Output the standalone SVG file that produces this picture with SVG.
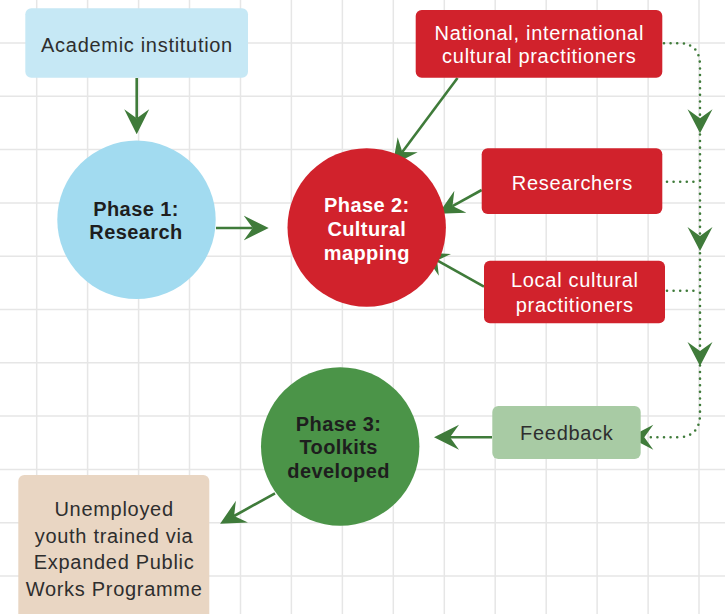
<svg xmlns="http://www.w3.org/2000/svg" xmlns:xlink="http://www.w3.org/1999/xlink" width="725" height="614" viewBox="0 0 725 614">
<style>
.grid line{stroke:#e6e6e6;stroke-width:1.5}
.t{font-family:"Liberation Sans",Arial,sans-serif;font-size:20px;letter-spacing:0.7px;text-anchor:middle}
.b{font-family:"Liberation Sans",Arial,sans-serif;font-size:20px;font-weight:bold;letter-spacing:0.4px;text-anchor:middle}
.dark{fill:#2e2e2e}
.white{fill:#ffffff}
.red{fill:#d1222c}
.conn{stroke:#3f7b3a;stroke-width:2.6;fill:none}
.dot{stroke:#3f7b3a;stroke-width:2.6;fill:none;stroke-linecap:round;stroke-dasharray:0 6.6}
.head{fill:#3f7b3a}
</style>
<defs>
<marker id="arr" markerUnits="userSpaceOnUse" viewBox="0 -13 25 26" refX="9" refY="0" markerWidth="25" markerHeight="26" orient="auto">
<path d="M25,0 L0,-12.5 L9,0 L0,12.5 Z" fill="#3f7b3a"/>
</marker>
<path id="ah" d="M0,0 L-24,-12.5 L-15,0 L-24,12.5 Z"/>
</defs>
<rect width="725" height="614" fill="#ffffff"/>
<g class="grid">
<line x1="0" y1="43" x2="725" y2="43"/>
<line x1="0" y1="96.3" x2="725" y2="96.3"/>
<line x1="0" y1="149.6" x2="725" y2="149.6"/>
<line x1="0" y1="202.9" x2="725" y2="202.9"/>
<line x1="0" y1="256.2" x2="725" y2="256.2"/>
<line x1="0" y1="309.5" x2="725" y2="309.5"/>
<line x1="0" y1="362.8" x2="725" y2="362.8"/>
<line x1="0" y1="416.1" x2="725" y2="416.1"/>
<line x1="0" y1="469.4" x2="725" y2="469.4"/>
<line x1="0" y1="522.7" x2="725" y2="522.7"/>
<line x1="0" y1="576" x2="725" y2="576"/>
<line x1="36.7" y1="0" x2="36.7" y2="614"/>
<line x1="87.6" y1="0" x2="87.6" y2="614"/>
<line x1="138.6" y1="0" x2="138.6" y2="614"/>
<line x1="189.5" y1="0" x2="189.5" y2="614"/>
<line x1="240.5" y1="0" x2="240.5" y2="614"/>
<line x1="291.4" y1="0" x2="291.4" y2="614"/>
<line x1="342.4" y1="0" x2="342.4" y2="614"/>
<line x1="393.3" y1="0" x2="393.3" y2="614"/>
<line x1="444.3" y1="0" x2="444.3" y2="614"/>
<line x1="495.2" y1="0" x2="495.2" y2="614"/>
<line x1="546.2" y1="0" x2="546.2" y2="614"/>
<line x1="597.1" y1="0" x2="597.1" y2="614"/>
<line x1="648.1" y1="0" x2="648.1" y2="614"/>
<line x1="699" y1="0" x2="699" y2="614"/>
</g>
<g id="connectors">
<path class="conn" d="M136.7,78 L136.7,118.3" marker-end="url(#arr)"/>
<path class="conn" d="M216,228 L252.7,228" marker-end="url(#arr)"/>
<path class="conn" d="M457.5,78 L402.3,152" marker-end="url(#arr)"/>
<path class="conn" d="M481.7,190 L452.5,206.1" marker-end="url(#arr)"/>
<path class="conn" d="M484,286.7 L437.1,260.4" marker-end="url(#arr)"/>
<path class="conn" d="M492,437.3 L450,437.3" marker-end="url(#arr)"/>
<path class="conn" d="M275,493.3 L234.1,516" marker-end="url(#arr)"/>
<path class="dot" d="M664,43.3 L682,43.3 Q700,45 700,66 L700,416 Q699,437 678,437.3 L648,437.3"/>
<path class="dot" d="M667,181.7 L698,181.7"/>
<path class="dot" d="M667,290.7 L698,290.7"/>
<use href="#ah" class="head" transform="translate(700,133.3) rotate(90)"/>
<use href="#ah" class="head" transform="translate(700,251) rotate(90)"/>
<use href="#ah" class="head" transform="translate(700,366) rotate(90)"/>
<use href="#ah" class="head" transform="translate(629.3,437.3) rotate(180)"/>
</g>
<g id="academic">
<rect x="25.3" y="8.3" width="222.7" height="69.4" rx="6" fill="#c6e8f5"/>
<text class="t dark" x="137" y="51.5">Academic institution</text>
</g>
<g id="phase1">
<circle cx="136.5" cy="219.8" r="79.2" fill="#a2dbf0"/>
<text class="b" fill="#1e1e1e" x="136" y="215.7">Phase 1:</text>
<text class="b" fill="#1e1e1e" x="136" y="239.3">Research</text>
</g>
<g id="phase2">
<circle cx="366.7" cy="227.5" r="79.2" fill="#d1222c"/>
<text class="b white" x="366.8" y="211.7">Phase 2:</text>
<text class="b white" x="366.8" y="236">Cultural</text>
<text class="b white" x="366.8" y="260">mapping</text>
</g>
<g id="national">
<rect x="415.7" y="10" width="246.6" height="67.7" rx="6" class="red"/>
<text class="t white" x="539.3" y="40">National, international</text>
<text class="t white" x="539.3" y="63.3">cultural practitioners</text>
</g>
<g id="researchers">
<rect x="481.7" y="148.3" width="180.6" height="65.7" rx="6" class="red"/>
<text class="t white" x="572.3" y="190">Researchers</text>
</g>
<g id="local">
<rect x="484" y="260.7" width="181" height="62.6" rx="6" class="red"/>
<text class="t white" x="574.8" y="287.3">Local cultural</text>
<text class="t white" x="574.8" y="311.7">practitioners</text>
</g>
<g id="feedback">
<rect x="492.3" y="406" width="148.4" height="53" rx="6" fill="#a8cba4"/>
<text class="t dark" x="566.8" y="440">Feedback</text>
</g>
<g id="phase3">
<circle cx="340.2" cy="446.5" r="79.2" fill="#4b9448"/>
<text class="b" fill="#1e1e1e" x="338.6" y="430.7">Phase 3:</text>
<text class="b" fill="#1e1e1e" x="338.6" y="454.3">Toolkits</text>
<text class="b" fill="#1e1e1e" x="338.6" y="477.7">developed</text>
</g>
<g id="unemployed">
<rect x="18.3" y="475" width="191" height="150" rx="6" fill="#e9d6c3"/>
<text class="t dark" x="114.1" y="516">Unemployed</text>
<text class="t dark" x="114.1" y="542.7">youth trained via</text>
<text class="t dark" x="114.1" y="569.3">Expanded Public</text>
<text class="t dark" x="114.1" y="596">Works Programme</text>
</g>
</svg>
